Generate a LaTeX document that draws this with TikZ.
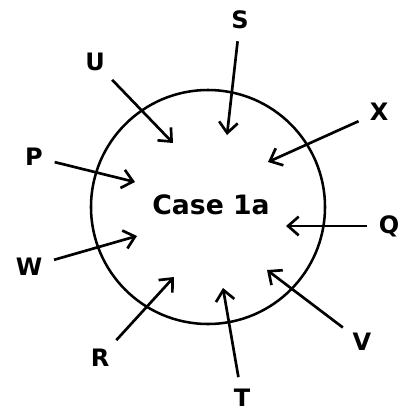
\documentclass[tikz,border=0pt]{standalone}
\usepackage{fontspec}
\setmainfont{DejaVu Sans}
\usetikzlibrary{arrows.meta}
\begin{document}
\begin{tikzpicture}[x=0.75pt,y=-0.75pt,
	lbl/.style={font=\fontsize{18}{18}\selectfont\bfseries,inner sep=0pt},
	inarrow/.style={line width=2pt,shorten <=9pt,-{Straight Barb[length=8pt,width=14pt,line width=2pt]}}]
	\useasboundingbox (0,0) rectangle (401,415);
	\node[circle,draw,line width=1.9pt,minimum size=175.5pt,inner sep=0pt] (ring) at (208,207) {};
	\node[font=\fontsize{20}{20}\selectfont\bfseries] (case) at (211,205) {Case 1a};
	% labels round the ring
	\node[lbl] (S) at (240,20) {S};
	\node[lbl] (U) at (95,62) {U};
	\node[lbl] (X) at (379,112) {X};
	\node[lbl] (P) at (34,157) {P};
	\node[lbl] (Q) at (389,226) {Q};
	\node[lbl] (W) at (29,267) {W};
	\node[lbl] (R) at (100,358) {R};
	\node[lbl] (V) at (362,342) {V};
	\node[lbl] (T) at (242,398) {T};
	% arrow tips inside the ring
	\coordinate (s-tip) at (227,135);
	\coordinate (u-tip) at (173,143);
	\coordinate (x-tip) at (268,162);
	\coordinate (p-tip) at (135,182);
	\coordinate (q-tip) at (286,226);
	\coordinate (w-tip) at (137,236);
	\coordinate (r-tip) at (174,277);
	\coordinate (v-tip) at (267,270);
	\coordinate (t-tip) at (223,288);
	\draw[inarrow] (S) -- (s-tip);
	\draw[inarrow] (U) -- (u-tip);
	\draw[inarrow] (X) -- (x-tip);
	\draw[inarrow] (P) -- (p-tip);
	\draw[inarrow] (Q) -- (q-tip);
	\draw[inarrow] (W) -- (w-tip);
	\draw[inarrow] (R) -- (r-tip);
	\draw[inarrow] (V) -- (v-tip);
	\draw[inarrow] (T) -- (t-tip);
\end{tikzpicture}
\end{document}
